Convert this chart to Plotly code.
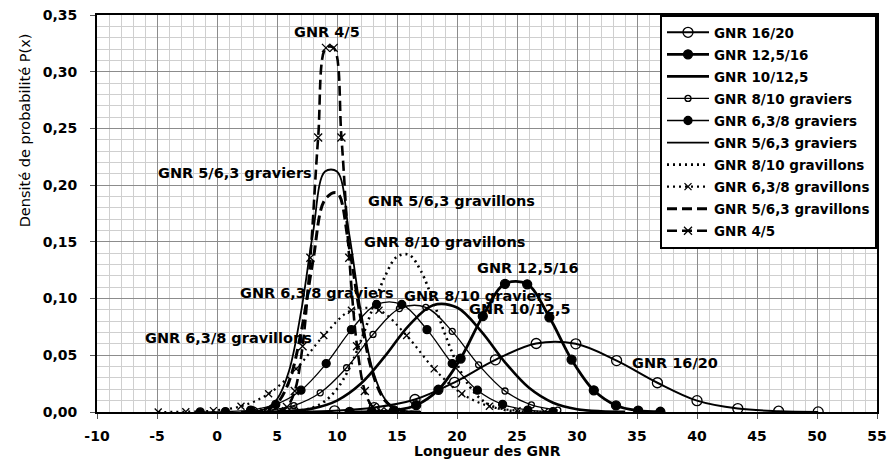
import plotly.graph_objects as go

# valeurs (points des courbes)
x_16_20 = [3.0, 6.4, 9.8, 13.1, 16.5, 19.8, 23.2, 26.6, 29.9, 33.3, 36.7, 40.0, 43.4, 46.8, 50.1]
y_16_20 = [0.0000, 0.0002, 0.0010, 0.0039, 0.0110, 0.0262, 0.0460, 0.0604, 0.0601, 0.0453, 0.0258,
           0.0100, 0.0030, 0.0007, 0.0001]

x_12_5_16 = [11.05, 12.9, 14.75, 16.6, 18.45, 20.3, 22.15, 24.0, 25.85, 27.7, 29.55, 31.4, 33.25, 35.1, 36.95]
y_12_5_16 = [0.0000, 0.0002, 0.0014, 0.0060, 0.0196, 0.0471, 0.0845, 0.1130, 0.1126, 0.0835, 0.0462,
             0.0191, 0.0058, 0.0013, 0.0002]

x_10_12_5 = [4, 6, 8, 10, 12, 14, 16, 18, 20, 22, 24, 26, 28, 30, 32, 34]
y_10_12_5 = [0.0002, 0.0008, 0.0032, 0.0101, 0.0251, 0.0492, 0.0764, 0.0942, 0.0921, 0.0713, 0.0438,
             0.0213, 0.0082, 0.0025, 0.0006, 0.0001]

x_8_10_grav = [4.2, 6.4, 8.6, 10.8, 13.0, 15.2, 17.4, 19.6, 21.8, 24.0, 26.2, 28.4]
y_8_10_grav = [0.0014, 0.0056, 0.0169, 0.0390, 0.0684, 0.0912, 0.0923, 0.0711, 0.0416, 0.0185, 0.0062, 0.0016]

x_63_8_grav = [-1.4, 0.7, 2.8, 4.9, 7.0, 9.1, 11.2, 13.3, 15.4, 17.5, 19.6, 21.7, 23.8, 25.9, 28.0]
y_63_8_grav = [0.0001, 0.0004, 0.0017, 0.0067, 0.0192, 0.0427, 0.0726, 0.0948, 0.0948, 0.0726, 0.0427,
               0.0192, 0.0067, 0.0017, 0.0004]

x_5_63_grav = [2, 3, 4, 5, 6, 7, 8, 9, 10, 11, 12, 13, 14, 15, 16, 17]
y_5_63_grav = [0.0001, 0.0005, 0.0027, 0.0113, 0.0362, 0.0880, 0.1580, 0.2120, 0.2120, 0.1580, 0.0880,
               0.0362, 0.0113, 0.0027, 0.0005, 0.0001]

x_8_10_gvl = [5, 6, 7, 8, 9, 10, 11, 12, 13, 14, 15, 16, 17, 18, 19, 20, 21, 22, 23, 24, 25, 26, 27]
y_8_10_gvl = [0.0001, 0.0005, 0.0015, 0.0040, 0.0096, 0.0203, 0.0380, 0.0630, 0.0923, 0.1196, 0.1369,
              0.1386, 0.1241, 0.0982, 0.0687, 0.0425, 0.0232, 0.0113, 0.0048, 0.0018, 0.0006, 0.0002, 0.0000]

x_63_8_gvl = [-4.9, -2.6, -0.3, 2.0, 4.3, 6.6, 8.9, 11.2, 13.5, 15.8, 18.1, 20.4, 22.7, 25.0, 27.3]
y_63_8_gvl = [0.0000, 0.0002, 0.0012, 0.0051, 0.0161, 0.0380, 0.0674, 0.0897, 0.0897, 0.0674, 0.0380,
              0.0161, 0.0051, 0.0012, 0.0002]

x_5_63_gvl = [3, 4, 5, 6, 7, 8, 9, 10, 11, 12, 13, 14, 15, 16, 17]
y_5_63_gvl = [0.0002, 0.0016, 0.0076, 0.0268, 0.0698, 0.1334, 0.1873, 0.1932, 0.1463, 0.0814, 0.0333,
              0.0100, 0.0022, 0.0004, 0.0000]

x_4_5 = [3.88, 4.53, 5.18, 5.83, 6.48, 7.13, 7.78, 8.43, 9.08, 9.72, 10.37, 11.02, 11.67, 12.32, 12.97,
         13.62, 14.27, 14.92]
y_4_5 = [0.0000, 0.0001, 0.0008, 0.0044, 0.0185, 0.0580, 0.1360, 0.2420, 0.3210, 0.3210, 0.2420, 0.1360,
         0.0580, 0.0185, 0.0044, 0.0008, 0.0001, 0.0000]

x_ticks = [-10, -5, 0, 5, 10, 15, 20, 25, 30, 35, 40, 45, 50, 55]
x_tick_labels = ['-10', '-5', '0', '5', '10', '15', '20', '25', '30', '35', '40', '45', '50', '55']
y_ticks = [0, 0.05, 0.10, 0.15, 0.20, 0.25, 0.30, 0.35]
y_tick_labels = ['0,00', '0,05', '0,10', '0,15', '0,20', '0,25', '0,30', '0,35']

FONT = "DejaVu Sans"

fig = go.Figure()


def courbe(x, y, name, width, dash="solid", symbol=None, size=0):
    mode = "lines+markers" if symbol else "lines"
    fig.add_trace(go.Scatter(
        x=x, y=y, name=name, mode=mode, legendgroup=name,
        line=dict(color="black", width=width, dash=dash, shape="spline"),
        marker=dict(symbol=symbol or "circle", size=size, color="black",
                    line=dict(color="black", width=1.3)),
    ))


courbe(x_16_20, y_16_20, "GNR 16/20", 2, symbol="circle-open", size=10)
courbe(x_12_5_16, y_12_5_16, "GNR 12,5/16", 2.8, symbol="circle", size=9)
courbe(x_10_12_5, y_10_12_5, "GNR 10/12,5", 2.6)
courbe(x_8_10_grav, y_8_10_grav, "GNR 8/10 graviers", 1.3, symbol="circle-open", size=6)
courbe(x_63_8_grav, y_63_8_grav, "GNR 6,3/8 graviers", 1.3, symbol="circle", size=8)
courbe(x_5_63_grav, y_5_63_grav, "GNR 5/6,3 graviers", 1.8)
courbe(x_8_10_gvl, y_8_10_gvl, "GNR 8/10 gravillons", 2.6, dash="2px,4px")
courbe(x_63_8_gvl, y_63_8_gvl, "GNR 6,3/8 gravillons", 2.2, dash="2px,4px", symbol="x-thin-open", size=7)
courbe(x_5_63_gvl, y_5_63_gvl, "GNR 5/6,3 gravillons", 3, dash="10px,5px")
courbe(x_4_5, y_4_5, "GNR 4/5", 2.6, dash="10px,5px", symbol="x-thin-open", size=8)

lab = dict(family=FONT, size=14.5, color="black", weight="bold")
etiquettes = [
    ("GNR 4/5", 9.2, 0.335, "center"),
    ("GNR 5/6,3 graviers", 8.1, 0.211, "right"),
    ("GNR 5/6,3 gravillons", 12.4, 0.186, "left"),
    ("GNR 8/10 gravillons", 12.1, 0.150, "left"),
    ("GNR 12,5/16", 21.5, 0.127, "left"),
    ("GNR 6,3/8 graviers", 14.9, 0.105, "right"),
    ("GNR 8/10 graviers", 15.4, 0.102, "left"),
    ("GNR 10/12,5", 20.8, 0.091, "left"),
    ("GNR 6,3/8 gravillons", 8.1, 0.065, "right"),
    ("GNR 16/20", 34.4, 0.043, "left"),
]
for txt, xa, ya, anc in etiquettes:
    fig.add_annotation(x=xa, y=ya, text=txt, showarrow=False, xanchor=anc,
                       yanchor="middle", font=lab)

fig.add_annotation(xref="paper", yref="paper", x=0.5, y=-0.098, text="Longueur des GNR",
                   showarrow=False, xanchor="center", yanchor="middle",
                   font=dict(family=FONT, size=14, color="black", weight="bold"))
fig.add_annotation(xref="paper", yref="paper", x=-0.092, y=0.71, text="Densité de probabilité P(x)",
                   showarrow=False, textangle=-90, xanchor="center", yanchor="middle",
                   font=dict(family=FONT, size=14.5, color="black"))

axe = dict(showline=True, linecolor="black", linewidth=2, mirror=True, zeroline=False,
           showgrid=True, gridcolor="#8c8c8c", gridwidth=1, ticks="outside", ticklen=5,
           tickcolor="#555555", automargin=False,
           tickfont=dict(family=FONT, size=14, color="black", weight="bold"))

fig.update_xaxes(axe, range=[-10, 55], tickvals=x_ticks, ticktext=x_tick_labels,
                 minor=dict(dtick=1, showgrid=True, gridcolor="#cfcfcf", gridwidth=1),
                 ticklabelstandoff=5)
fig.update_yaxes(axe, range=[0, 0.35], tickvals=y_ticks, ticktext=y_tick_labels,
                 minor=dict(dtick=0.01, showgrid=True, gridcolor="#cfcfcf", gridwidth=1),
                 ticklabelstandoff=10)

fig.update_layout(
    width=890, height=462,
    margin=dict(l=97, r=13, t=15, b=50),
    paper_bgcolor="white", plot_bgcolor="white",
    font=dict(family=FONT, color="black"),
    legend=dict(x=1, y=1, xanchor="right", yanchor="top", bgcolor="white",
                bordercolor="black", borderwidth=2, itemwidth=42, tracegroupgap=1.5,
                font=dict(family=FONT, size=13.5, color="black", weight="bold")),
)

# on supprime la marge par défaut de la page pour que la figure occupe toute la fenêtre
fig.write_html("out.html", config={"displayModeBar": False},
               post_script="document.body.style.margin = '0';")
